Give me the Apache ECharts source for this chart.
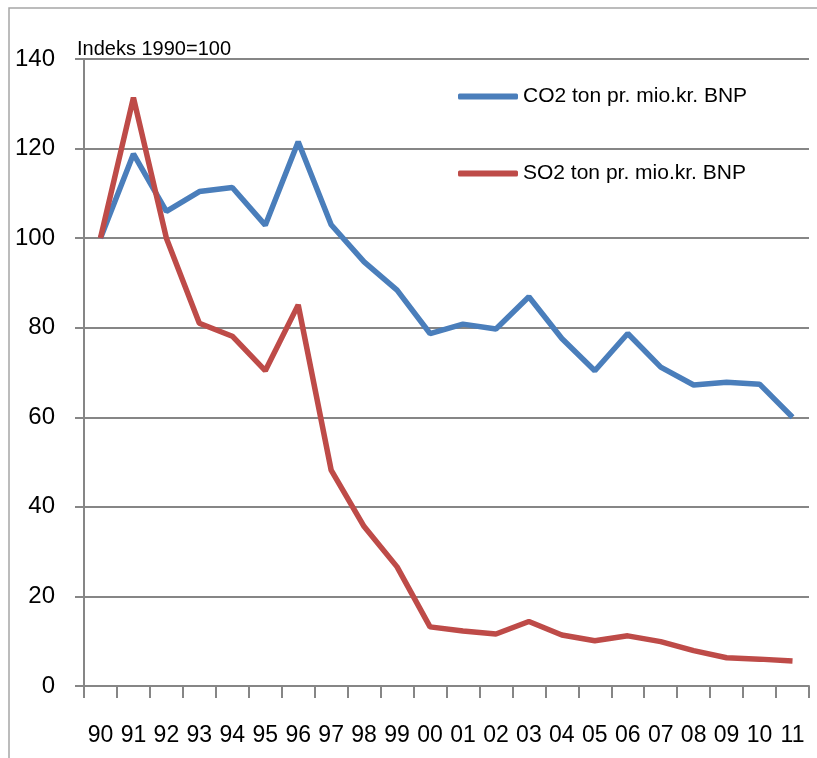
<!DOCTYPE html>
<html>
<head>
<meta charset="utf-8">
<script src="https://cdn.jsdelivr.net/npm/echarts@6/dist/echarts.min.js"></script>
<style>
  html, body { margin: 0; padding: 0; background: #fff; }
  #chart { width: 817px; height: 758px; }
</style>
</head>
<body>
<div id="chart"></div>
<script>
  // år (kategorier)
  const years = ['90', '91', '92', '93', '94', '95', '96', '97', '98', '99', '00',
    '01', '02', '03', '04', '05', '06', '07', '08', '09', '10', '11'];
  // CO2 ton pr. mio.kr. BNP, indeks 1990=100
  const co2Data = [100, 118.8, 106, 110.4, 111.3, 102.9, 121.5, 103, 94.7, 88.4, 78.7,
    80.8, 79.7, 86.9, 77.6, 70.4, 78.7, 71.2, 67.2, 67.8, 67.4, 60.0];
  // SO2 ton pr. mio.kr. BNP, indeks 1990=100
  const so2Data = [100, 131.4, 100, 81.0, 78.1, 70.4, 85.1, 48.2, 35.6, 26.6, 13.2,
    12.3, 11.6, 14.4, 11.4, 10.1, 11.2, 9.9, 7.9, 6.3, 6.0, 5.6];
  const seriesNames = ['CO2 ton pr. mio.kr. BNP', 'SO2 ton pr. mio.kr. BNP'];

  const font = '"Liberation Sans", Arial, sans-serif';
  const gray = '#868686';

  const myChart = echarts.init(document.getElementById('chart'));
  const option = {
    animation: false,
    title: {
      text: 'Indeks 1990=100',
      left: 72,
      top: 34,
      textStyle: { fontFamily: font, fontSize: 20, fontWeight: 'normal', color: '#000' }
    },
    legend: {
      orient: 'vertical',
      left: 453,
      top: 81,
      itemWidth: 60,
      itemHeight: 6,
      itemGap: 56,
      icon: 'roundRect',
      data: seriesNames,
      textStyle: { fontFamily: font, fontSize: 21, color: '#000' }
    },
    graphic: [{
      type: 'rect',
      shape: { x: 9, y: 8, width: 830, height: 780 },
      style: { fill: 'none', stroke: '#a6a6a6', lineWidth: 1.5 },
      silent: true
    }],
    grid: { left: 84, top: 59, right: 8, bottom: 72 },
    xAxis: {
      type: 'category',
      data: years,
      boundaryGap: true,
      axisLine: { lineStyle: { color: gray, width: 2 } },
      axisTick: { show: true, length: 12, lineStyle: { color: gray, width: 2 } },
      axisLabel: { interval: 0, margin: 38, fontFamily: font, fontSize: 23, color: '#000' }
    },
    yAxis: {
      type: 'value',
      min: 0,
      max: 140,
      interval: 20,
      axisLine: { show: true, lineStyle: { color: gray, width: 2 } },
      axisTick: { show: true, length: 9, lineStyle: { color: gray, width: 2 } },
      splitLine: { lineStyle: { color: gray, width: 2 } },
      axisLabel: { margin: 29, fontFamily: font, fontSize: 24, color: '#000' }
    },
    series: [
      {
        name: seriesNames[0],
        type: 'line',
        data: co2Data,
        symbol: 'none',
        itemStyle: { color: '#4a7ebb' },
        lineStyle: { color: '#4a7ebb', width: 5.5 }
      },
      {
        name: seriesNames[1],
        type: 'line',
        data: so2Data,
        symbol: 'none',
        itemStyle: { color: '#be4b48' },
        lineStyle: { color: '#be4b48', width: 5.5 }
      }
    ]
  };
  myChart.setOption(option);
</script>
</body>
</html>
